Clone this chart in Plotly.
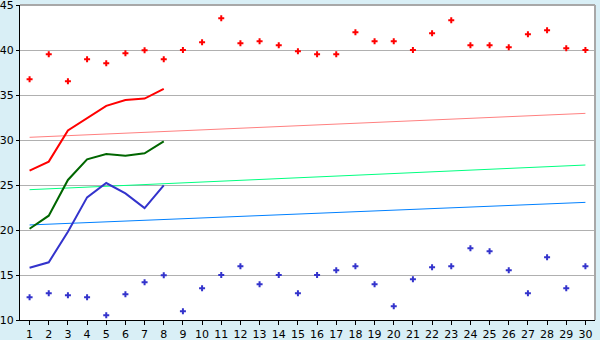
import plotly.graph_objects as go

days = list(range(1, 31))

red_points = [36.74, 39.52, 36.52, 38.96, 38.52, 39.63, 39.96, 38.96, 40.0, 40.85,
              43.52, 40.74, 40.96, 40.52, 39.85, 39.52, 39.52, 41.96, 40.96, 40.96,
              40.0, 41.85, 43.3, 40.52, 40.52, 40.3, 41.74, 42.19, 40.19, 40.0]
blue_points = [12.52, 12.96, 12.74, 12.52, 10.52, 12.85, 14.19, 14.96, 10.96, 13.52,
               15.0, 15.96, 13.96, 15.0, 12.96, 15.0, 15.52, 15.96, 13.96, 11.52,
               14.52, 15.85, 15.96, 17.96, 17.63, 15.52, 12.96, 16.96, 13.52, 15.96]

line_days = [1, 2, 3, 4, 5, 6, 7, 8]
red_line = [26.6, 27.6, 31.07, 32.4, 33.8, 34.44, 34.6, 35.67]
green_line = [20.14, 21.59, 25.56, 27.85, 28.44, 28.26, 28.52, 29.85]
blue_line = [15.81, 16.41, 19.81, 23.63, 25.22, 24.07, 22.44, 24.96]

trend_days = [1, 30]
red_trend = [30.3, 32.96]
green_trend = [24.48, 27.22]
blue_trend = [20.56, 23.07]

y_ticks = [10, 15, 20, 25, 30, 35, 40, 45]

fig = go.Figure()

fig.add_trace(go.Scatter(x=trend_days, y=red_trend, mode="lines",
                         line=dict(color="#FF8080", width=1), hoverinfo="skip"))
fig.add_trace(go.Scatter(x=trend_days, y=green_trend, mode="lines",
                         line=dict(color="#00FF80", width=1), hoverinfo="skip"))
fig.add_trace(go.Scatter(x=trend_days, y=blue_trend, mode="lines",
                         line=dict(color="#0080FF", width=1), hoverinfo="skip"))

fig.add_trace(go.Scatter(x=line_days, y=red_line, mode="lines",
                         line=dict(color="#FF0000", width=2)))
fig.add_trace(go.Scatter(x=line_days, y=green_line, mode="lines",
                         line=dict(color="#006600", width=2)))
fig.add_trace(go.Scatter(x=line_days, y=blue_line, mode="lines",
                         line=dict(color="#3333CC", width=2)))

fig.add_trace(go.Scatter(x=days, y=red_points, mode="markers",
                         marker=dict(symbol="cross", size=5, color="#FF0000",
                                     line=dict(width=0))))
fig.add_trace(go.Scatter(x=days, y=blue_points, mode="markers",
                         marker=dict(symbol="cross", size=5, color="#3333CC",
                                     line=dict(width=0))))

fig.update_layout(
    width=600, height=340,
    margin=dict(l=20, r=5, t=5, b=20, autoexpand=False),
    paper_bgcolor="#D9EFF6",
    plot_bgcolor="#FFFFFF",
    showlegend=False,
    font=dict(family="DejaVu Sans", size=11, color="#000000"),
    xaxis=dict(range=[0.5, 30.5], tickmode="array", tickvals=days,
               ticktext=[str(d) for d in days], showgrid=False, zeroline=False,
               showline=True, linecolor="#000000", linewidth=1,
               ticks="outside", ticklen=4, tickcolor="#000000",
               tickfont=dict(size=11), automargin=False),
    yaxis=dict(range=[10, 45], tickmode="array", tickvals=y_ticks,
               showgrid=True, gridcolor="#B0B0B0", gridwidth=1, zeroline=False,
               showline=True, linecolor="#000000", linewidth=1,
               ticks="outside", ticklen=3, tickcolor="#000000",
               tickfont=dict(size=11), automargin=False, ticklabelstandoff=0,
               ticklabeloverflow="allow"),
    shapes=[
        dict(type="line", xref="paper", yref="paper", x0=1, x1=1, y0=0, y1=1,
             line=dict(color="#A8A8A8", width=2)),
        dict(type="line", xref="paper", yref="paper", x0=0, x1=1, y0=1, y1=1,
             line=dict(color="#A8A8A8", width=2)),
    ],
)

fig.write_html("out.html")
